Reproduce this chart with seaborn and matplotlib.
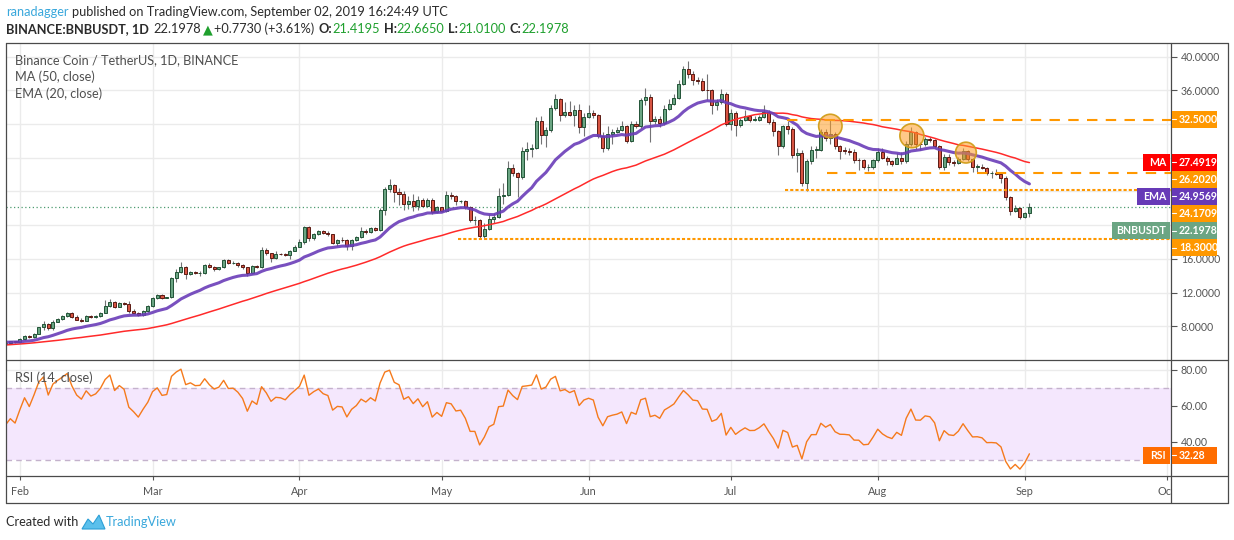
import matplotlib
matplotlib.use('Agg')
import matplotlib.pyplot as plt
from matplotlib.patches import Rectangle, Ellipse, Polygon
from matplotlib.lines import Line2D
from matplotlib.ticker import FixedFormatter
import numpy as np
import pandas as pd
import seaborn as sns

# ---------------- data ----------------
# closes before the visible window, only used to warm up MA / EMA / RSI
warmup_start = '2018-12-10'
warmup_closes = [4.45, 4.35, 4.6, 4.4, 4.3, 4.35, 4.5, 5.0, 5.2, 5.3, 5.6, 5.3, 5.6, 5.7, 5.9, 5.5,
                 5.6, 5.3, 5.8, 5.7, 6.0, 5.9,
                 6.1, 6.3, 6.1, 6.3, 6.3, 6.7, 6.6, 6.6, 6.6, 6.0, 6.0, 5.9, 5.6, 6.0, 5.8, 6.0,
                 6.1, 6.0, 6.3, 6.1, 6.0, 6.2, 6.2, 6.3, 6.3, 6.4, 6.2, 5.95]

# daily candles 2019-01-29 .. 2019-09-02
closes = [6.05, 6.2, 6.1,
          6.45, 6.87, 6.67, 7.14, 7.86, 8.25, 7.74, 8.53, 8.85, 9.16, 9.52, 9.12, 8.8, 8.65,
          9.24, 9.05, 9.2, 9.6, 10.4, 10.9, 10.31, 10.78, 10.63, 9.83, 9.6, 9.32, 9.83, 10.35,
          11.3, 11.7, 11.34, 11.42, 13.68, 14.47, 15.06, 14.19, 14.47, 14.31, 14.35, 15.3, 14.98,
          14.75, 14.98, 15.89, 15.46, 15.5, 15.3, 14.98, 14.27, 15.18, 14.98, 17.04, 16.65, 16.09,
          16.56, 16.53, 16.41, 16.96, 17.44,
          17.95, 19.73, 18.42, 18.94, 19.33, 19.02, 18.9, 17.87, 18.27, 18.23, 17.5, 18.23, 18.62,
          19.33, 19.14, 19.61, 19.41, 21.83, 24.28, 24.8, 23.89, 23.7, 22.5, 22.9, 22.3, 23.0,
          22.3, 23.0, 21.5, 22.1,
          21.7, 23.61, 23.5, 22.8, 22.9, 22.1, 20.6, 20.6, 18.74, 19.53, 20.7, 21.0, 23.49, 23.6,
          26.78, 26.15, 25.7, 28.84, 29.0, 29.2, 32.4, 30.7, 31.3, 33.9, 34.97, 33.07, 33.47,
          33.07, 33.6, 31.6, 32.87,
          33.3, 33.07, 30.6, 29.1, 30.8, 31.1, 31.3, 31.7, 29.94, 32.0, 31.7, 34.85, 35.25, 32.3,
          32.6, 32.08, 33.78, 34.4, 35.1, 36.75, 38.53, 37.94, 37.23, 37.15, 36.04, 36.0, 34.3,
          34.6, 35.6, 32.0,
          33.27, 31.9, 32.48, 32.95, 32.48, 32.5, 32.87, 33.4, 32.28, 31.13, 29.35, 31.76, 31.37,
          28.36, 28.6, 24.95, 27.65, 28.95, 28.95, 31.1, 30.3, 30.8, 29.35, 28.83, 28.8, 28.7,
          27.72, 27.7, 26.85, 26.9, 27.72,
          28.7, 28.0, 27.55, 27.3, 27.97, 27.57, 29.62, 31.0, 29.62, 29.6, 30.2, 30.1, 29.4, 26.85,
          28.1, 27.45, 27.35, 27.84, 28.75, 27.84, 26.93, 26.95, 26.8, 26.14, 26.15, 26.1, 25.6,
          23.3, 21.63, 22.0, 20.92,
          21.4248, 22.1978]

highs = [6.15, 6.3, 6.3,
         6.55, 6.95, 6.95, 7.25, 7.95, 8.6, 8.4, 8.7, 8.95, 9.3, 9.75, 9.7, 9.3, 8.95,
         9.3, 9.35, 9.3, 9.75, 11.1, 11.25, 10.95, 10.85, 10.85, 10.95, 10.1, 9.7, 9.9, 10.5,
         11.45, 11.85, 11.8, 11.5, 13.85, 14.85, 15.6, 15.2, 14.6, 14.55, 14.5, 15.4, 15.45,
         15.1, 15.05, 16.0, 15.95, 15.7, 15.65, 15.4, 15.05, 15.3, 15.3, 17.45, 17.3, 16.7,
         16.9, 16.7, 16.65, 17.05, 17.6,
         18.35, 19.95, 19.9, 19.1, 19.45, 19.4, 19.25, 19.0, 18.4, 18.6, 18.4, 18.3, 18.75,
         19.8, 19.5, 19.75, 19.8, 22.0, 24.55, 25.5, 24.9, 24.4, 24.0, 23.4, 23.7, 23.5,
         23.2, 23.2, 23.2, 22.3,
         22.2, 24.1, 23.9, 23.6, 23.0, 23.0, 22.3, 21.1, 20.7, 20.2, 21.3, 21.4, 24.4, 25.0,
         27.6, 27.2, 26.3, 29.3, 29.8, 29.6, 32.8, 33.0, 31.6, 34.3, 35.5, 35.1, 34.6,
         34.7, 34.2, 34.4, 33.3,
         34.2, 33.6, 33.2, 31.0, 31.7, 31.4, 31.6, 32.3, 31.9, 32.3, 32.4, 35.1, 36.3, 35.6,
         32.9, 32.9, 34.2, 35.0, 35.5, 37.2, 38.9, 39.5, 38.3, 37.6, 37.5, 37.9, 36.2,
         35.0, 36.1, 35.8,
         33.8, 33.5, 32.7, 33.7, 33.1, 33.0, 33.1, 34.3, 33.6, 32.6, 31.3, 31.9, 32.3,
         31.6, 29.2, 28.9, 27.9, 29.4, 29.4, 31.4, 31.4, 32.5, 31.0, 29.5, 29.3, 29.1,
         29.0, 28.0, 27.9, 27.2, 27.9,
         29.1, 29.1, 28.2, 27.7, 28.6, 28.7, 30.0, 31.6, 31.2, 29.9, 30.4, 30.5, 30.2, 29.5,
         28.4, 28.4, 27.7, 28.1, 29.2, 28.9, 28.0, 27.2, 27.2, 26.9, 26.4, 26.7, 26.3,
         25.8, 23.4, 22.4, 22.1,
         21.6, 22.665]

lows = [5.9, 6.0, 6.05,
        6.05, 6.4, 6.6, 6.65, 7.1, 7.6, 7.6, 7.6, 8.45, 8.8, 9.1, 9.0, 8.7, 8.45,
        8.6, 9.0, 8.95, 9.15, 9.55, 10.3, 10.2, 10.25, 10.55, 9.6, 9.55, 9.25, 9.2, 9.75,
        10.25, 11.2, 11.2, 11.3, 11.35, 13.2, 14.3, 13.6, 14.1, 14.2, 13.95, 14.2, 14.9,
        14.6, 14.7, 14.9, 15.4, 15.35, 15.0, 14.8, 14.0, 14.2, 14.9, 14.9, 16.5, 15.6,
        16.0, 16.4, 16.3, 16.0, 16.9,
        17.4, 17.8, 18.1, 18.2, 18.8, 18.9, 18.75, 17.7, 17.5, 18.0, 17.0, 17.0, 18.1,
        18.5, 19.0, 19.05, 19.3, 19.35, 21.2, 23.9, 22.7, 22.4, 21.8, 21.9, 21.7, 21.8,
        22.1, 22.2, 21.3, 21.4,
        21.6, 21.6, 23.1, 22.4, 22.6, 21.9, 20.4, 20.0, 18.5, 18.3, 19.4, 20.3, 20.8, 22.5,
        23.5, 25.8, 23.3, 25.5, 27.7, 28.1, 29.0, 29.6, 29.3, 31.1, 33.6, 32.4, 32.8,
        32.9, 31.8, 30.9, 30.6,
        32.7, 32.7, 30.3, 28.7, 28.9, 29.6, 30.9, 31.2, 29.7, 29.9, 31.5, 31.5, 34.3, 29.8,
        32.0, 31.6, 31.9, 33.6, 34.2, 34.9, 36.6, 37.4, 36.6, 36.7, 35.9, 34.8, 33.2,
        33.6, 34.4, 31.8,
        31.3, 30.6, 31.6, 32.3, 32.2, 32.3, 32.3, 32.7, 32.0, 30.6, 28.3, 29.1, 30.8,
        28.0, 26.3, 24.6, 24.1, 27.3, 28.0, 28.8, 30.0, 29.6, 29.0, 27.8, 28.4, 28.3,
        27.4, 26.5, 26.6, 26.4, 26.7,
        27.5, 27.8, 27.1, 27.0, 27.2, 27.3, 27.4, 29.4, 29.0, 28.9, 29.4, 29.8, 29.1, 26.6,
        26.5, 27.1, 27.0, 27.2, 27.7, 27.6, 26.3, 26.3, 26.6, 25.9, 25.6, 25.9, 25.0,
        23.0, 21.2, 21.5, 20.7,
        20.8, 21.01]

last_open = 21.4195
first_day = '2019-01-29'
levels = [32.5, 26.202, 24.1709, 18.3]
level_starts = [161.8, 170.4, 161.4, 92.5]          # day offsets from Feb 1
level_styles = ['dash', 'dash', 'dot', 'dot']
ma_last, ema_last, rsi_last = 27.4919, 24.9569, 32.28
month_names = ['Feb', 'Mar', 'Apr', 'May', 'Jun', 'Jul', 'Aug', 'Sep', 'Oct']
price_ticks = [8, 12, 16, 20, 24, 28, 32, 36, 40]
rsi_ticks = [40, 60, 80]
# pattern markers: (day offset, price, radius px)
circles = [(171.0, 31.76, 11.7), (188.2, 30.6, 12.0), (199.6, 28.6, 10.4)]

# ---------------- indicators ----------------
all_close = pd.Series(warmup_closes + closes,
                      index=pd.date_range(warmup_start, periods=len(warmup_closes) + len(closes), freq='D'))
df = pd.DataFrame({'close': all_close})
df['open'] = df['close'].shift(1)
df['ma50'] = df['close'].rolling(50, min_periods=1).mean()
df['ema20'] = df['close'].ewm(span=20, adjust=False).mean()
delta = df['close'].diff()
up = delta.clip(lower=0).ewm(alpha=1 / 14, adjust=False).mean()
dn = (-delta.clip(upper=0)).ewm(alpha=1 / 14, adjust=False).mean()
df['rsi'] = 100 - 100 / (1 + up / dn)

pdf = df.loc[first_day:].copy()
pdf['high'] = highs
pdf['low'] = lows
pdf.iloc[-1, pdf.columns.get_loc('open')] = last_open
origin = pd.Timestamp('2019-02-01')
pdf['x'] = (pdf.index - origin).days.astype(float)

# ---------------- layout (pixel based) ----------------
W, H = 1234, 540
L, R, RR = 6, 1171, 1228
T, M, B, D = 42.5, 360, 476, 503
PX_DAY, X0 = 4.74, 19.8
PX_PRICE, Y40 = 8.43, 56.5


def fx(px):
    return px / W


def fy(py):
    return 1 - py / H


sns.set_style('white')
plt.rcParams['font.family'] = ['Lato', 'DejaVu Sans']

fig = plt.figure(figsize=(W / 100, H / 100), dpi=100)
fig.patch.set_facecolor('white')
ax = fig.add_axes([fx(L), fy(M), (R - L) / W, (M - T) / H])
ax_r = fig.add_axes([fx(L), fy(B), (R - L) / W, (B - M) / H])
ax_d = fig.add_axes([fx(L), fy(D), (R - L) / W, (D - B) / H])

xlim = ((L - X0) / PX_DAY, (R - X0) / PX_DAY)
for a in (ax, ax_r, ax_d):
    a.set_xlim(*xlim)
    a.set_facecolor('white')
    for s in a.spines.values():
        s.set_visible(False)
    a.set_xticks([])
ax.set_ylim(40 - (M - Y40) / PX_PRICE, 40 + (Y40 - T) / PX_PRICE)
ax_r.set_ylim(80 - (B - 370) / 1.79, 80 + (370 - M) / 1.79)
ax_d.set_ylim(0, 1)
ax_d.set_yticks([])

months = pd.date_range('2019-02-01', '2019-10-01', freq='MS')
month_x = [(m - origin).days for m in months]
grid_c = '#ebebeb'

# grid
for mx in month_x:
    ax.axvline(mx, color=grid_c, lw=1, zorder=0)
    ax_r.axvline(mx, color=grid_c, lw=1, zorder=0)
for p in price_ticks:
    ax.axhline(p, color=grid_c, lw=1, zorder=0)
for r in rsi_ticks:
    ax_r.axhline(r, color=grid_c, lw=1, zorder=0)

# right price scale; labels that sit under the value tags are left blank
hidden = {20, 24, 28, 32}
price_labels = ['' if p in hidden else '%.4f' % p for p in price_ticks]
for a, ticks, labels in ((ax, price_ticks, price_labels), (ax_r, rsi_ticks, ['%.2f' % r for r in rsi_ticks])):
    a.yaxis.tick_right()
    a.set_yticks(ticks)
    a.yaxis.set_major_formatter(FixedFormatter(labels))
    a.tick_params(axis='y', length=4, width=0.8, color='#555555', labelcolor='#555555',
                  labelsize=7.6, pad=3)

# ---------------- candles ----------------
up_mask = pdf['close'] >= pdf['open']
body_lo = np.minimum(pdf['open'], pdf['close'])
body_h = np.maximum((pdf['close'] - pdf['open']).abs(), 0.05)
ax.vlines(pdf['x'], pdf['low'], pdf['high'], color='#737375', lw=0.8, zorder=2)
ax.bar(pdf['x'], body_h, bottom=body_lo, width=0.64,
       color=np.where(up_mask, '#6ba583', '#d75442'),
       edgecolor=np.where(up_mask, '#225437', '#5b1a13'), linewidth=0.7, zorder=3)

sns.lineplot(data=pdf, x='x', y='ma50', ax=ax, color='#ff2a2a', linewidth=1.1, zorder=4, legend=False)
sns.lineplot(data=pdf, x='x', y='ema20', ax=ax, color='#6a3db8', linewidth=2.2, alpha=0.9, zorder=4,
             legend=False)
ax.axhline(closes[-1], color='#4e9c70', lw=0.9, linestyle=(0, (1, 2)), zorder=2)

for lvl, x_start, sty in zip(levels, level_starts, level_styles):
    dash = (0, (5, 4)) if sty == 'dash' else (0, (1.5, 1))
    ax.plot([x_start, xlim[1]], [lvl, lvl], color='#ff9800', lw=1.5, linestyle=dash, zorder=5)

for cx, cy, rad in circles:
    ax.add_patch(Ellipse((cx, cy), 2 * rad / PX_DAY, 2 * rad / PX_PRICE,
                         facecolor=(1.0, 0.62, 0.15, 0.55), edgecolor=(0.82, 0.62, 0.1, 0.95),
                         lw=1.2, zorder=6))
ax.set_xlabel('')
ax.set_ylabel('')

# ---------------- RSI ----------------
ax_r.axhspan(30, 70, color='#f4e7fd', zorder=0.5, lw=0)
for r in (30, 70):
    ax_r.axhline(r, color='#c4b2cc', lw=1, linestyle=(0, (4, 3)), zorder=1)
sns.lineplot(data=pdf, x='x', y='rsi', ax=ax_r, color='#f57a1c', linewidth=1.0, zorder=3, legend=False)
ax_r.set_xlabel('')
ax_r.set_ylabel('')

# ---------------- date strip ----------------
ax_d.vlines(month_x, 0.85, 1.0, color='#555555', lw=0.8)
for mx, name in zip(month_x, month_names):
    ax_d.text(mx, 0.41, name, ha='center', va='center', fontsize=7.8, color='#555555', clip_on=True)

# ---------------- frame ----------------
frame_c = '#4a4a4a'
for (x0, y0, x1, y1) in [(L, T, RR, T), (L, M, RR, M), (L, B, RR, B), (L, D, RR, D),
                         (L, T, L, D), (R, T, R, D), (RR, T, RR, D)]:
    fig.add_artist(Line2D([fx(x0), fx(x1)], [fy(y0), fy(y1)], color=frame_c, lw=0.9,
                          transform=fig.transFigure, zorder=3))


# ---------------- scale tags ----------------
def tag(yc, text, color, name=None, name_x0=None):
    fig.add_artist(Rectangle((fx(R + 1), fy(yc + 8.5)), 45 / W, 17 / H, transform=fig.transFigure,
                             facecolor=color, edgecolor='none', zorder=5))
    fig.add_artist(Line2D([fx(R + 1), fx(R + 5)], [fy(yc), fy(yc)], color='white', lw=0.8,
                          transform=fig.transFigure, zorder=6))
    fig.text(fx(R + 8), fy(yc), text, color='white', fontsize=7.6, fontweight='bold',
             va='center', ha='left', zorder=6)
    if name:
        fig.add_artist(Rectangle((fx(name_x0), fy(yc + 8.5)), (R - 1 - name_x0) / W, 17 / H,
                                 transform=fig.transFigure, facecolor=color, edgecolor='none',
                                 zorder=5))
        fig.text(fx(R - 5), fy(yc), name, color='white', fontsize=7.6, fontweight='bold',
                 va='center', ha='right', zorder=6)


orange = '#ff9800'
tag(119.3, '%.4f' % levels[0], orange)
tag(162.3, '%.4f' % ma_last, '#ff0000', 'MA', 1143)
tag(179.3, '%.4f' % levels[1], orange)
tag(196.3, '%.4f' % ema_last, '#673ab7', 'EMA', 1137)
tag(213.3, '%.4f' % levels[2], orange)
tag(230.7, '%.4f' % closes[-1], '#6ba583', 'BNBUSDT', 1112)
tag(247.7, '%.4f' % levels[3], orange)
tag(370 + (80 - rsi_last) * 1.79, '%.2f' % rsi_last, '#ff6d00', 'RSI', 1143)

# ---------------- texts ----------------
renderer = fig.canvas.get_renderer()


def runs(x, y, parts, size=9.2):
    for s, color, weight, gap in parts:
        t = fig.text(fx(x), fy(y), s, color=color, fontsize=size, fontweight=weight,
                     va='center', ha='left')
        x += t.get_window_extent(renderer=renderer).width + gap


dark = '#2b2b2b'
green = '#1fa02e'
o_, h_, l_, c_ = pdf['open'].iloc[-1], pdf['high'].iloc[-1], pdf['low'].iloc[-1], pdf['close'].iloc[-1]
chg = closes[-1] - closes[-2]
runs(6, 12, [('ranadagger', '#3aa8dc', 'normal', 3),
             ('published on TradingView.com, September 02, 2019 16:24:49 UTC', dark, 'normal', 0)])
runs(6, 29, [('BINANCE:BNBUSDT, 1D', dark, 'bold', 4),
             ('%.4f' % c_, dark, 'normal', 2),
             ('▲', green, 'normal', 2),
             ('+%.4f (+%.2f%%)' % (chg, chg / closes[-2] * 100), dark, 'normal', 4),
             ('O:', dark, 'bold', 0), ('%.4f' % o_, green, 'normal', 4),
             ('H:', dark, 'bold', 0), ('%.4f' % h_, green, 'normal', 4),
             ('L:', dark, 'bold', 0), ('%.4f' % l_, green, 'normal', 4),
             ('C:', dark, 'bold', 0), ('%.4f' % c_, green, 'normal', 0)])

legend_c = '#4f4f4f'
for yy, s in ((60, 'Binance Coin / TetherUS, 1D, BINANCE'), (77, 'MA (50, close)'), (94, 'EMA (20, close)'),
              (378, 'RSI (14, close)')):
    fig.text(fx(15), fy(yy), s, color=legend_c, fontsize=9.2, va='center', ha='left')

runs(6, 522, [('Created with', dark, 'normal', 0)])
fig.add_artist(Polygon([(fx(82), fy(529)), (fx(88), fy(519)), (fx(93), fy(524)), (fx(99), fy(515)),
                        (fx(105), fy(529))], closed=True, transform=fig.transFigure,
                       facecolor='#5bc0ec', edgecolor='#2c9fd6', lw=0.8))
fig.text(fx(106), fy(522), 'TradingView', color='#3aa8dc', fontsize=9.2, va='center', ha='left')

fig.savefig('out.png', dpi=100)
